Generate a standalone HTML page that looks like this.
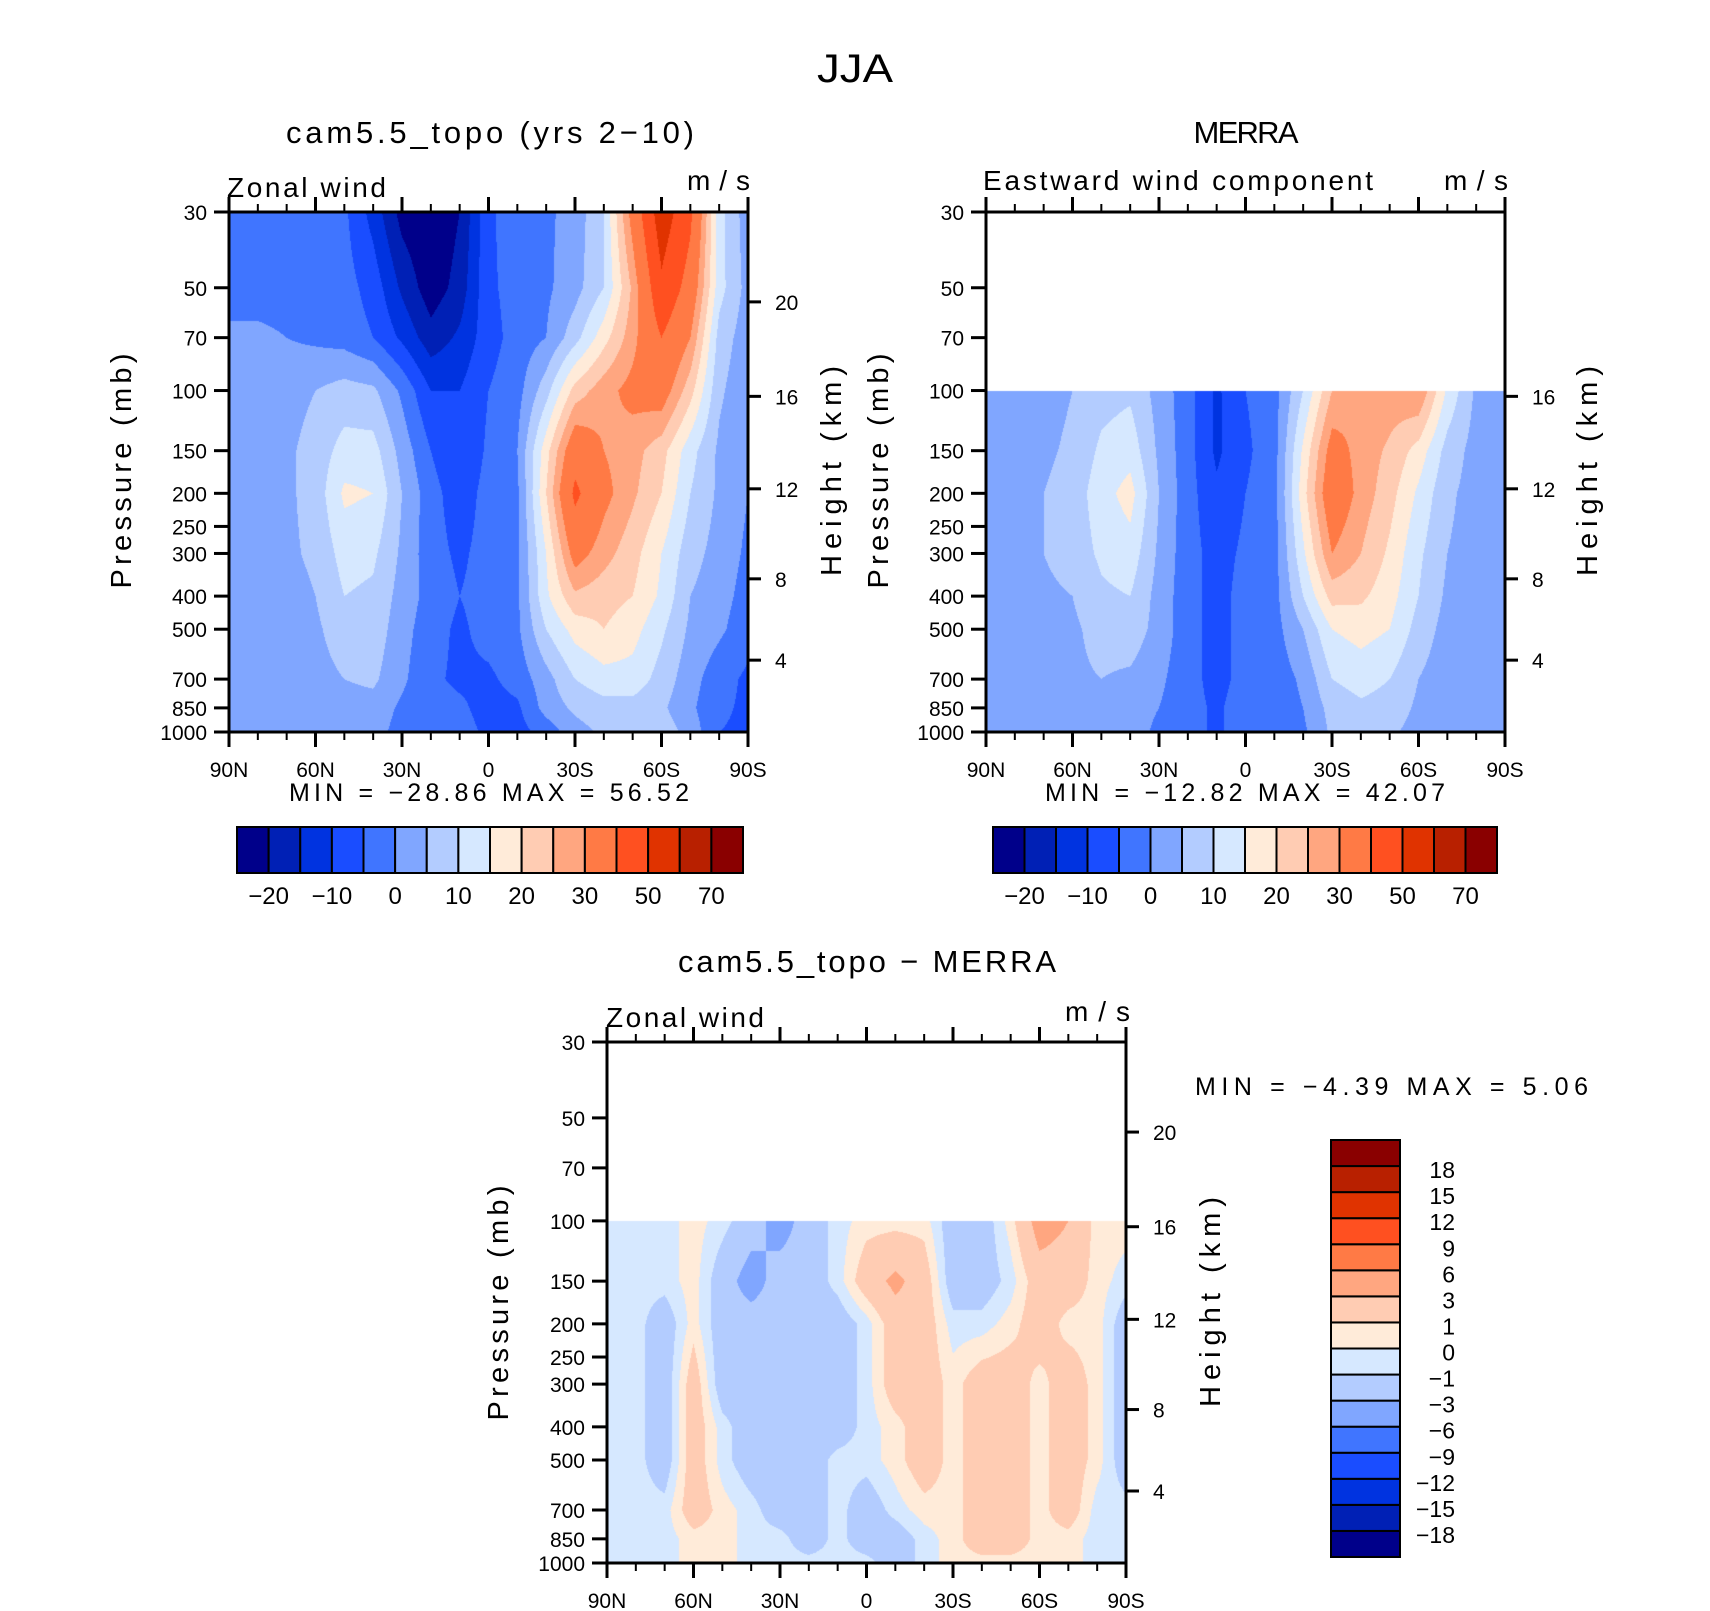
<!DOCTYPE html>
<html><head><meta charset="utf-8">
<style>
html,body{margin:0;padding:0;background:#fff;}
#wrap{position:relative;width:1710px;height:1611px;overflow:hidden;background:#fff;}
canvas{position:absolute;}
svg{position:absolute;left:0;top:0;}
text{font-family:"Liberation Sans",sans-serif;fill:#000;}
</style></head>
<body>
<div id="wrap">
<canvas id="c1"></canvas>
<canvas id="c2"></canvas>
<canvas id="c3"></canvas>
<svg id="svg" width="1710" height="1611" xmlns="http://www.w3.org/2000/svg">
<text x="855" y="82" font-size="40" text-anchor="middle" textLength="76" lengthAdjust="spacingAndGlyphs">JJA</text>
<text x="490" y="143" font-size="31" text-anchor="middle" textLength="408" lengthAdjust="spacing">cam5.5_topo (yrs 2−10)</text>
<text x="1246" y="143" font-size="31" text-anchor="middle" textLength="105" lengthAdjust="spacing">MERRA</text>
<text x="867" y="972" font-size="31" text-anchor="middle" textLength="378" lengthAdjust="spacing">cam5.5_topo − MERRA</text>
<text x="227" y="197" font-size="28" textLength="159" lengthAdjust="spacing">Zonal wind</text>
<text x="750" y="190" font-size="28" text-anchor="end" textLength="63" lengthAdjust="spacing">m/s</text>
<text x="983" y="190" font-size="28" textLength="390" lengthAdjust="spacing">Eastward wind component</text>
<text x="1508" y="190" font-size="28" text-anchor="end" textLength="64" lengthAdjust="spacing">m/s</text>
<text x="606" y="1027" font-size="28" textLength="158" lengthAdjust="spacing">Zonal wind</text>
<text x="1130" y="1021" font-size="28" text-anchor="end" textLength="65" lengthAdjust="spacing">m/s</text>
<text x="289" y="801" font-size="25" textLength="400" lengthAdjust="spacing">MIN = −28.86   MAX =  56.52</text>
<text x="1045" y="801" font-size="25" textLength="400" lengthAdjust="spacing">MIN = −12.82   MAX =  42.07</text>
<text x="1195" y="1095" font-size="25" textLength="393" lengthAdjust="spacing">MIN =  −4.39   MAX =   5.06</text>
<text transform="translate(131,471) rotate(-90)" font-size="29" text-anchor="middle" textLength="235" lengthAdjust="spacing">Pressure (mb)</text>
<text transform="translate(888,471) rotate(-90)" font-size="29" text-anchor="middle" textLength="235" lengthAdjust="spacing">Pressure (mb)</text>
<text transform="translate(508,1303) rotate(-90)" font-size="29" text-anchor="middle" textLength="235" lengthAdjust="spacing">Pressure (mb)</text>
<text transform="translate(841,471) rotate(-90)" font-size="29" text-anchor="middle" textLength="210" lengthAdjust="spacing">Height (km)</text>
<text transform="translate(1597,471) rotate(-90)" font-size="29" text-anchor="middle" textLength="210" lengthAdjust="spacing">Height (km)</text>
<text transform="translate(1220,1302) rotate(-90)" font-size="29" text-anchor="middle" textLength="210" lengthAdjust="spacing">Height (km)</text>
</svg>
</div>
<script>
const lats = [90,80,70,60,50,40,30,20,10,0,-10,-20,-30,-40,-50,-60,-70,-80,-90];
const pressures = [30,50,70,100,150,200,300,400,500,700,850,1000];
const latTicks = [90,60,30,0,-30,-60,-90];
const latTickLabels = ['90N','60N','30N','0','30S','60S','90S'];
const pTicks = [30,50,70,100,150,200,250,300,400,500,700,850,1000];
const kmTicks = [4,8,12,16,20];
const kmTickPressure = [616,356,194,104,55];

const levelsFull = [-20,-15,-10,-5,0,5,10,15,20,25,30,40,50,60,70];
const levelsDiff = [-18,-15,-12,-9,-6,-3,-1,0,1,3,6,9,12,15,18];
const cbLabelsFull = ['−20','−10','0','10','20','30','50','70'];
const cbLabelsDiff = ['18','15','12','9','6','3','1','0','−1','−3','−6','−9','−12','−15','−18'];
const colors = ['#00008a','#0020b5','#0033e0','#1a4dff','#4075ff','#80a6ff','#b3ccff','#d6e8ff',
                '#ffebd9','#ffccb3','#ffa680','#ff7a45','#ff5020','#e03300','#b82000','#8a0000'];
const N = NaN;
const modelField = [
 [-2,-2,-2,-2,-4,-12,-22,-25,-20,-6,-2,-1,2,10,33,56,42,12,2],
 [-2,-2,-2,-2,-3,-7,-16,-23,-18,-6,-3,-1,3,10,26,48,36,12,3],
 [1,1,0,-1,-2,-5,-11,-18,-14,-7,-3,0,8,18,28,40,30,8,2],
 [2,2,3,5,7,6,-1,-10,-10,-5,-2,8,22,28,32,34,22,6,1],
 [2,2,4,7,12,12,3,-5,-10,-4,0,18,36,30,27,22,12,4,0],
 [2,3,4,7,16,15,5,-3,-8,-3,-1,20,42,32,26,20,10,4,0],
 [2,3,4,6,12,11,4,-3,-6,-3,-1,15,33,27,22,15,7,3,-1],
 [2,2,3,5,10,9,3,-2,-5,-3,-1,14,24,22,20,14,5,2,-2],
 [2,2,3,4,8,8,2,-3,-6,-3,-1,10,17,20,17,11,4,1,-3],
 [1,2,2,3,5,6,1,-4,-6,-6,-3,3,10,13,13,8,2,-3,-6],
 [2,2,3,3,3,3,-1,-3,-4,-7,-6,2,6,8,8,6,1,-4,-6],
 [2,2,2,2,2,2,-2,-3,-3,-6,-7,-3,3,6,8,8,3,-5,-6]
];
const merraField = [
 [N,N,N,N,N,N,N,N,N,N,N,N,N,N,N,N,N,N,N],
 [N,N,N,N,N,N,N,N,N,N,N,N,N,N,N,N,N,N,N],
 [N,N,N,N,N,N,N,N,N,N,N,N,N,N,N,N,N,N,N],
 [2,2,3,5,8,9,3,-3,-11,-5,-2,10,25,30,28,30,14,4,2],
 [2,3,4,6,11,13,4,-3,-11,-6,-2,16,33,28,24,18,8,3,2],
 [2,3,5,7,13,17,5,-3,-9,-5,-2,18,36,28,22,14,6,3,2],
 [2,3,5,7,11,13,4,-3,-7,-4,-2,14,30,25,19,11,5,3,2],
 [1,2,4,5,9,10,3,-3,-7,-3,-2,10,22,21,17,10,4,2,1],
 [1,2,3,4,7,8,3,-3,-7,-3,-2,5,15,17,15,8,3,2,1],
 [1,2,3,4,5,4,1,-3,-7,-3,-3,1,10,12,10,5,2,1,1],
 [1,2,3,3,3,2,0,-3,-6,-2,-3,0,7,9,8,4,1,1,1],
 [2,2,2,2,2,2,-1,-3,-6,-2,-4,-1,6,7,6,3,1,1,1]
];
const diffField = [
 [N,N,N,N,N,N,N,N,N,N,N,N,N,N,N,N,N,N,N],
 [N,N,N,N,N,N,N,N,N,N,N,N,N,N,N,N,N,N,N],
 [N,N,N,N,N,N,N,N,N,N,N,N,N,N,N,N,N,N,N],
 [-0.5,-0.5,-0.5,0.5,-0.5,-2,-4,-2,-0.5,0.5,0.5,0.5,-2,-2,0.5,4,3,0.5,0.5],
 [-0.5,-0.5,-0.5,0.5,-2,-4,-2,-2,-0.5,2,3.5,2,-2,-2,-0.5,2,2,0.5,-0.5],
 [-0.5,-0.5,-2,0.5,-2,-2,-2,-2,-2,-0.5,2,2,-0.5,-0.5,0.5,2,0.5,0.5,-2],
 [-0.5,-0.5,-2,2,-2,-2,-2,-2,-2,-0.5,2,2,0.5,2,2,0.5,2,0.5,-2],
 [-0.5,-0.5,-2,2,-0.5,-2,-2,-2,-2,-0.5,0.5,2,0.5,2,2,0.5,2,0.5,-2],
 [-0.5,-0.5,-2,2,-0.5,-2,-2,-2,-0.5,-0.5,0.5,2,0.5,2,2,0.5,2,0.5,-2],
 [-0.5,-0.5,-0.5,2,0.5,-0.5,-2,-2,-0.5,-2,-0.5,0.5,0.5,2,2,0.5,2,-0.5,-0.5],
 [-0.5,-0.5,-0.5,0.5,0.5,-0.5,-0.5,-2,-0.5,-2,-2,-0.5,0.5,2,2,0.5,0.5,-0.5,-0.5],
 [-0.5,-0.5,-0.5,0.5,0.5,-0.5,-0.5,-0.5,-0.5,-0.5,-2,-0.5,0.5,0.5,0.5,0.5,0.5,-0.5,-0.5]
];

const SVGNS = 'http://www.w3.org/2000/svg';
const svg = document.getElementById('svg');
const LOGR = Math.log(1000/30);

function mk(tag, attrs, parent){
  const e = document.createElementNS(SVGNS, tag);
  for (const k in attrs) e.setAttribute(k, attrs[k]);
  (parent||svg).appendChild(e);
  return e;
}
function hexRgb(h){return [parseInt(h.substr(1,2),16),parseInt(h.substr(3,2),16),parseInt(h.substr(5,2),16)];}
const rgbColors = colors.map(hexRgb);

function classify(v, levels){
  let k = 0;
  while (k < levels.length && v >= levels[k]) k++;
  return k;
}

function drawField(canvasId, P, field, levels){
  const cv = document.getElementById(canvasId);
  cv.width = P.w; cv.height = P.h;
  cv.style.left = P.x + 'px'; cv.style.top = P.y + 'px';
  const ctx = cv.getContext('2d');
  const img = ctx.createImageData(P.w, P.h);
  const logP = pressures.map(p => Math.log(p));
  for (let py = 0; py < P.h; py++){
    const lp = Math.log(30) + (py+0.5)/P.h*LOGR;
    let j = 0;
    while (j < pressures.length-2 && lp > logP[j+1]) j++;
    const t = Math.min(1, Math.max(0, (lp-logP[j])/(logP[j+1]-logP[j])));
    for (let px = 0; px < P.w; px++){
      const lat = 90 - 180*(px+0.5)/P.w;
      const fi = (90-lat)/10;
      const i = Math.min(lats.length-2, Math.floor(fi));
      const s = fi - i;
      const a = field[j][i], b = field[j][i+1], c = field[j+1][i], d = field[j+1][i+1];
      const v = (a*(1-s)+b*s)*(1-t) + (c*(1-s)+d*s)*t;
      const o = (py*P.w+px)*4;
      if (isNaN(v)) { img.data[o]=255; img.data[o+1]=255; img.data[o+2]=255; }
      else {
        const col = rgbColors[classify(v, levels)];
        img.data[o]=col[0]; img.data[o+1]=col[1]; img.data[o+2]=col[2];
      }
      img.data[o+3]=255;
    }
  }
  ctx.putImageData(img,0,0);
}

function drawAxes(P, prefix, kmList){
  const xOf = lat => P.x + P.w*(90-lat)/180;
  const yOf = p => P.y + P.h*Math.log(p/30)/LOGR;
  const g = mk('g', {});
  
  
  for (let lat = 90; lat >= -90; lat -= 10){
    const major = (lat % 30 === 0);
    const len = major ? 15 : 8;
    const x = xOf(lat);
    const tb = mk('line', {x1:x, y1:P.y+P.h, x2:x, y2:P.y+P.h+len, stroke:'#000', 'stroke-width': major?3:2}, g);
    
    
    const tt = mk('line', {x1:x, y1:P.y, x2:x, y2:P.y-len, stroke:'#000', 'stroke-width': major?3:2}, g);
    
    
  }
  latTicks.forEach((lat, k) => {
    const t = mk('text', {x:xOf(lat), y:P.y+P.h+45, 'font-size':21, 'text-anchor':'middle'}, g);
    t.textContent = latTickLabels[k];
    
    
  });
  pTicks.forEach(p => {
    const y = yOf(p);
    const l = mk('line', {x1:P.x-15, y1:y, x2:P.x, y2:y, stroke:'#000', 'stroke-width':3}, g);
    
    
    const t = mk('text', {x:P.x-22, y:y+8, 'font-size':21, 'text-anchor':'end'}, g);
    t.textContent = String(p);
    
    
  });
  kmList.forEach(km => {
    const y = yOf(kmTickPressure[kmTicks.indexOf(km)]);
    const l = mk('line', {x1:P.x+P.w, y1:y, x2:P.x+P.w+13, y2:y, stroke:'#000', 'stroke-width':3}, g);
    
    
    const t = mk('text', {x:P.x+P.w+27, y:y+8, 'font-size':21}, g);
    t.textContent = String(km);
    
    
  });
  const fr = mk('rect', {x:P.x, y:P.y, width:P.w, height:P.h, fill:'none', stroke:'#000', 'stroke-width':3}, g);
  
  
}

function drawHBar(B, prefix){
  const g = mk('g', {});
  
  
  const bw = B.w / colors.length;
  colors.forEach((c, k) => {
    const r = mk('rect', {x:B.x+k*bw, y:B.y, width:bw, height:B.h, fill:c, stroke:'#000', 'stroke-width':2}, g);
    
    
  });
  cbLabelsFull.forEach((s, k) => {
    const t = mk('text', {x:B.x+(2*k+1)*bw, y:B.y+B.h+31, 'font-size':24, 'text-anchor':'middle'}, g);
    t.textContent = s;
    
    
  });
}

function drawVBar(B, prefix){
  const g = mk('g', {});
  
  
  const bh = B.h / colors.length;
  const n = colors.length;
  colors.forEach((c, k) => {
    const r = mk('rect', {x:B.x, y:B.y+(n-1-k)*bh, width:B.w, height:bh, fill:c, stroke:'#000', 'stroke-width':2}, g);
    
    
  });
  cbLabelsDiff.forEach((s, k) => {
    const t = mk('text', {x:1455, y:B.y+(k+1)*bh+12, 'font-size':23, 'text-anchor':'end'}, g);
    t.textContent = s;
    
    
  });
}

const P1 = {x:229, y:212, w:519, h:520};
const P2 = {x:986, y:212, w:519, h:520};
const P3 = {x:607, y:1042, w:519, h:521};
drawField('c1', P1, modelField, levelsFull);
drawField('c2', P2, merraField, levelsFull);
drawField('c3', P3, diffField, levelsDiff);
drawAxes(P1, 'model', [4,8,12,16,20]);
drawAxes(P2, 'merra', [4,8,12,16]);
drawAxes(P3, 'difference', [4,8,12,16,20]);
drawHBar({x:237, y:827, w:506, h:46}, 'model');
drawHBar({x:993, y:827, w:504, h:46}, 'merra');
drawVBar({x:1331, y:1140, w:69, h:417}, 'difference');
</script>
</body></html>
